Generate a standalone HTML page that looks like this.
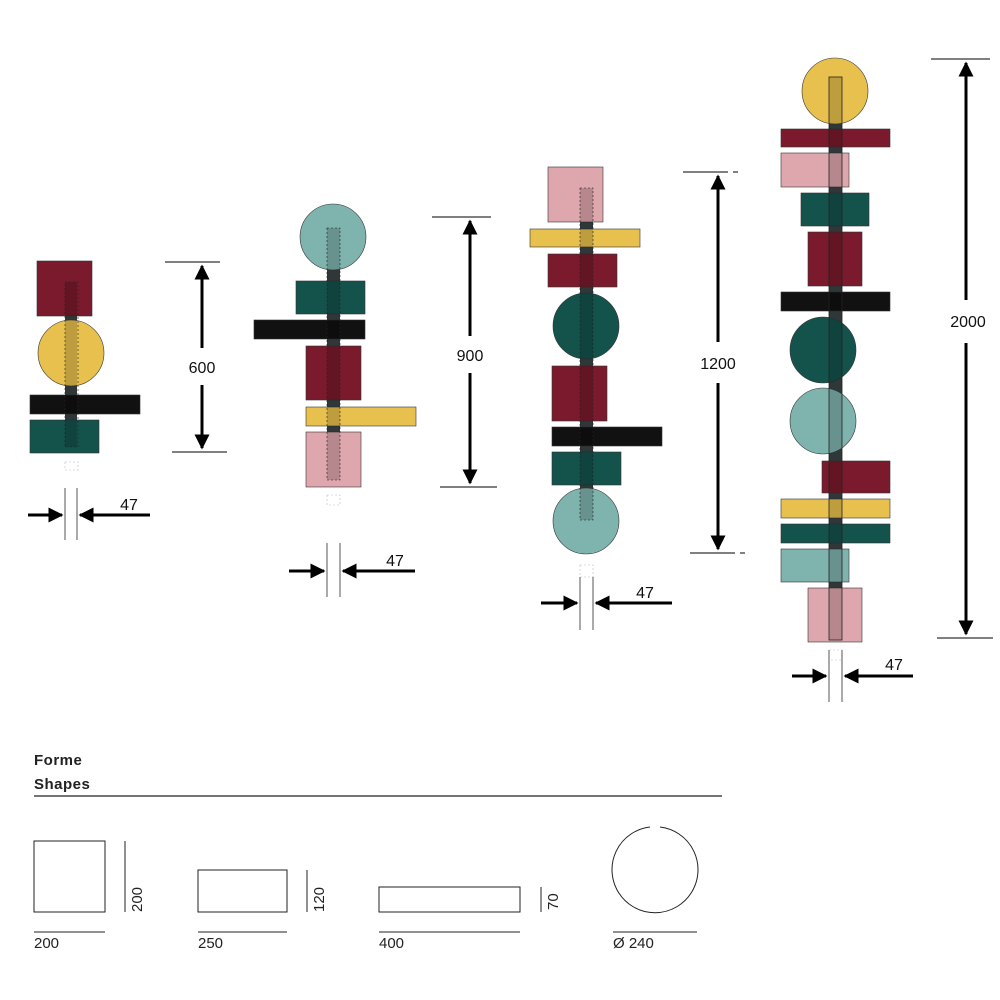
<!DOCTYPE html>
<html><head><meta charset="utf-8"><style>
html,body{margin:0;padding:0;background:#fff;}
svg{display:block}
text{font-family:"Liberation Sans",sans-serif;}
</style></head><body>
<svg width="1000" height="1000" viewBox="0 0 1000 1000" xmlns="http://www.w3.org/2000/svg">
<defs>
<marker id="ah" viewBox="0 0 10 10" refX="9" refY="5" markerWidth="5" markerHeight="5" orient="auto-start-reverse"><path d="M0,0 L10,5 L0,10 z" fill="#000"/></marker>
</defs>
<g stroke="#333" stroke-width="0.6">
<!-- Column 1 -->
<rect x="65" y="265" width="12" height="185" fill="#3a4446" stroke="none"/>
<rect x="37" y="261" width="55" height="55" fill="#7a1a2c"/>
<circle cx="71" cy="353" r="33" fill="#e8c04e"/>
<rect x="30" y="395" width="110" height="19" fill="#111"/>
<rect x="30" y="420" width="69" height="33" fill="#14524c"/>
<rect x="65" y="282" width="12" height="165" fill="#000" fill-opacity="0.18" stroke="none"/>
<rect x="65" y="282" width="13" height="165" fill="none" stroke="#222" stroke-dasharray="2,2"/>
<rect x="65" y="462" width="13" height="8" fill="none" stroke="#bbb" stroke-dasharray="2,2"/>
<!-- Column 2 -->
<rect x="327" y="240" width="13" height="240" fill="#3a4446" stroke="none"/>
<circle cx="333" cy="237" r="33" fill="#7fb3ad"/>
<rect x="296" y="281" width="69" height="33" fill="#14524c"/>
<rect x="254" y="320" width="111" height="19" fill="#111"/>
<rect x="306" y="346" width="55" height="54" fill="#7a1a2c"/>
<rect x="306" y="407" width="110" height="19" fill="#e8c04e"/>
<rect x="306" y="432" width="55" height="55" fill="#dea7ad"/>
<rect x="327" y="228" width="13" height="252" fill="#000" fill-opacity="0.18" stroke="none"/>
<rect x="327" y="228" width="13" height="252" fill="none" stroke="#222" stroke-dasharray="2,2"/>
<rect x="327" y="495" width="13" height="10" fill="none" stroke="#bbb" stroke-dasharray="2,2"/>
<!-- Column 3 -->
<rect x="580" y="190" width="13" height="330" fill="#3a4446" stroke="none"/>
<rect x="548" y="167" width="55" height="55" fill="#dea7ad"/>
<rect x="530" y="229" width="110" height="18" fill="#e8c04e"/>
<rect x="548" y="254" width="69" height="33" fill="#7a1a2c"/>
<circle cx="586" cy="326" r="33" fill="#14524c"/>
<rect x="552" y="366" width="55" height="55" fill="#7a1a2c"/>
<rect x="552" y="427" width="110" height="19" fill="#111"/>
<rect x="552" y="452" width="69" height="33" fill="#14524c"/>
<circle cx="586" cy="521" r="33" fill="#7fb3ad"/>
<rect x="580" y="188" width="13" height="332" fill="#000" fill-opacity="0.18" stroke="none"/>
<rect x="580" y="188" width="13" height="332" fill="none" stroke="#222" stroke-dasharray="2,2"/>
<rect x="580" y="565" width="13" height="12" fill="none" stroke="#bbb" stroke-dasharray="2,2"/>
<!-- Column 4 -->
<rect x="829" y="100" width="13" height="540" fill="#3a4446" stroke="none"/>
<circle cx="835" cy="91" r="33" fill="#e8c04e"/>
<rect x="781" y="129" width="109" height="18" fill="#7a1a2c"/>
<rect x="781" y="153" width="68" height="34" fill="#dea7ad"/>
<rect x="801" y="193" width="68" height="33" fill="#14524c"/>
<rect x="808" y="232" width="54" height="54" fill="#7a1a2c"/>
<rect x="781" y="292" width="109" height="19" fill="#111"/>
<circle cx="823" cy="350" r="33" fill="#14524c"/>
<circle cx="823" cy="421" r="33" fill="#7fb3ad"/>
<rect x="822" y="461" width="68" height="32" fill="#7a1a2c"/>
<rect x="781" y="499" width="109" height="19" fill="#e8c04e"/>
<rect x="781" y="524" width="109" height="19" fill="#14524c"/>
<rect x="781" y="549" width="68" height="33" fill="#7fb3ad"/>
<rect x="808" y="588" width="54" height="54" fill="#dea7ad"/>
<rect x="829" y="77" width="13" height="563" fill="#000" fill-opacity="0.18" stroke="none"/>
<rect x="829" y="77" width="13" height="563" fill="none" stroke="#222" stroke-width="0.8"/>
<rect x="829" y="650" width="13" height="10" fill="none" stroke="#bbb" stroke-dasharray="2,2"/>
</g>
<!-- Dimension lines -->
<g stroke="#000" stroke-width="1">
<line x1="165" y1="262" x2="220" y2="262"/><line x1="172" y1="452" x2="227" y2="452"/>
<line x1="432" y1="217" x2="491" y2="217"/><line x1="440" y1="487" x2="497" y2="487"/>
<line x1="683" y1="172" x2="728" y2="172"/><line x1="733" y1="172" x2="738" y2="172"/>
<line x1="690" y1="553" x2="735" y2="553"/><line x1="740" y1="553" x2="745" y2="553"/>
<line x1="931" y1="59" x2="990" y2="59"/><line x1="937" y1="638" x2="993" y2="638"/>
</g>
<g stroke="#000" stroke-width="3" marker-end="url(#ah)">
<line x1="202" y1="348" x2="202" y2="266"/><line x1="202" y1="385" x2="202" y2="448"/>
<line x1="470" y1="336" x2="470" y2="221"/><line x1="470" y1="373" x2="470" y2="483"/>
<line x1="718" y1="342" x2="718" y2="176"/><line x1="718" y1="383" x2="718" y2="549"/>
<line x1="966" y1="300" x2="966" y2="63"/><line x1="966" y1="343" x2="966" y2="634"/>
<line x1="28" y1="515" x2="62" y2="515"/><line x1="150" y1="515" x2="80" y2="515"/>
<line x1="289" y1="571" x2="324" y2="571"/><line x1="415" y1="571" x2="343" y2="571"/>
<line x1="541" y1="603" x2="577" y2="603"/><line x1="672" y1="603" x2="596" y2="603"/>
<line x1="792" y1="676" x2="826" y2="676"/><line x1="913" y1="676" x2="845" y2="676"/>
</g>
<g stroke="#555" stroke-width="1">
<line x1="65" y1="488" x2="65" y2="540"/><line x1="77" y1="488" x2="77" y2="540"/>
<line x1="327" y1="543" x2="327" y2="597"/><line x1="340" y1="543" x2="340" y2="597"/>
<line x1="580" y1="577" x2="580" y2="630"/><line x1="593" y1="577" x2="593" y2="630"/>
<line x1="829" y1="650" x2="829" y2="702"/><line x1="842" y1="650" x2="842" y2="702"/>
</g>
<g font-size="16" fill="#111" text-anchor="middle">
<text x="202" y="373">600</text>
<text x="470" y="361">900</text>
<text x="718" y="369">1200</text>
<text x="968" y="327">2000</text>
<text x="129" y="510">47</text>
<text x="395" y="566">47</text>
<text x="645" y="598">47</text>
<text x="894" y="670">47</text>
</g>
<!-- Legend -->
<g font-size="15" font-weight="bold" fill="#222">
<text x="34" y="765" letter-spacing="0.5">Forme</text>
<text x="34" y="789" letter-spacing="0.5">Shapes</text>
</g>
<line x1="34" y1="796" x2="722" y2="796" stroke="#222" stroke-width="1.2"/>
<g fill="none" stroke="#222" stroke-width="1">
<rect x="34" y="841" width="71" height="71"/>
<rect x="198" y="870" width="89" height="42"/>
<rect x="379" y="887" width="141" height="25"/>
<path d="M650,827 A43,43 0 1,0 660,827"/>
<line x1="125" y1="841" x2="125" y2="912"/>
<line x1="307" y1="870" x2="307" y2="912"/>
<line x1="541" y1="887" x2="541" y2="912"/>
<line x1="34" y1="932" x2="105" y2="932"/>
<line x1="198" y1="932" x2="287" y2="932"/>
<line x1="379" y1="932" x2="520" y2="932"/>
<line x1="613" y1="932" x2="697" y2="932"/>
</g>
<g font-size="15" fill="#222">
<text x="34" y="948">200</text>
<text x="198" y="948">250</text>
<text x="379" y="948">400</text>
<text x="613" y="948">Ø 240</text>
<text transform="translate(142,912) rotate(-90)">200</text>
<text transform="translate(324,912) rotate(-90)">120</text>
<text transform="translate(558,910) rotate(-90)">70</text>
</g>
</svg>
</body></html>
